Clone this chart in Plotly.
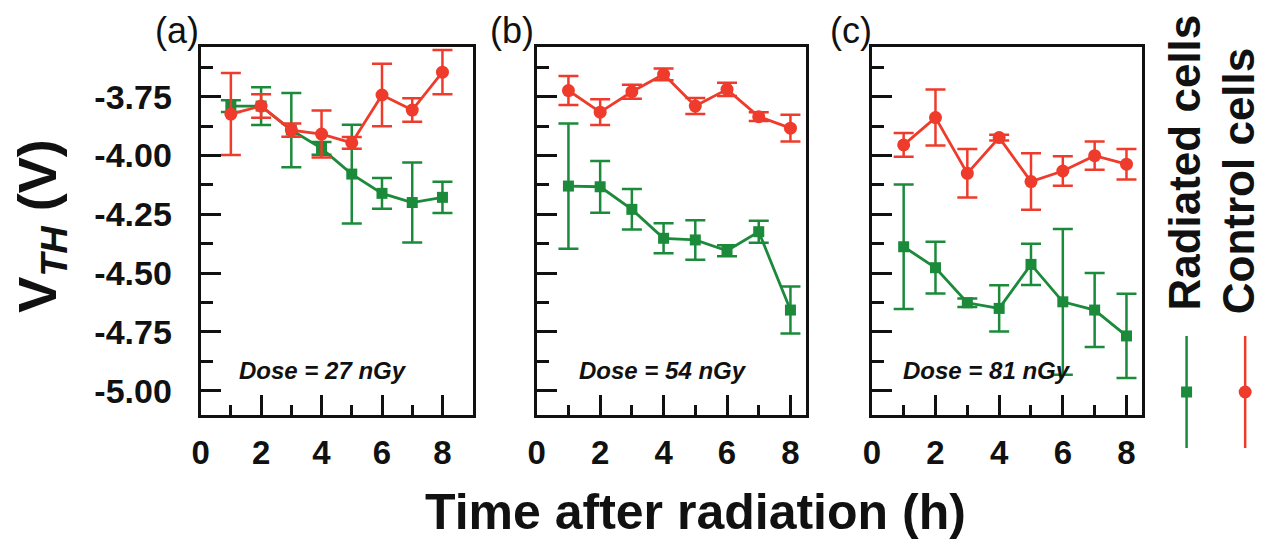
import plotly.graph_objects as go

W, H = 1268, 540

hours = [1, 2, 3, 4, 5, 6, 7, 8]

rad_a = [-3.79, -3.79, -3.892, -3.97, -4.079, -4.161, -4.20, -4.178]
rad_a_err = [0.025, 0.08, 0.158, 0.027, 0.21, 0.065, 0.17, 0.066]
ctl_a = [-3.824, -3.79, -3.892, -3.909, -3.946, -3.743, -3.807, -3.646]
ctl_a_err = [0.174, 0.05, 0.028, 0.10, 0.025, 0.133, 0.05, 0.094]

rad_b = [-4.13, -4.133, -4.229, -4.352, -4.359, -4.405, -4.324, -4.657]
rad_b_err = [0.266, 0.11, 0.086, 0.064, 0.084, 0.023, 0.047, 0.10]
ctl_b = [-3.724, -3.816, -3.729, -3.655, -3.79, -3.719, -3.835, -3.884]
ctl_b_err = [0.062, 0.055, 0.03, 0.025, 0.034, 0.028, 0.019, 0.057]

rad_c = [-4.388, -4.477, -4.626, -4.65, -4.463, -4.622, -4.657, -4.767]
rad_c_err = [0.265, 0.11, 0.018, 0.098, 0.088, 0.31, 0.157, 0.179]
ctl_c = [-3.955, -3.839, -4.076, -3.924, -4.111, -4.066, -4.001, -4.037]
ctl_c_err = [0.05, 0.119, 0.103, 0.012, 0.12, 0.063, 0.06, 0.065]

panel_labels = ["(a)", "(b)", "(c)"]
dose_labels = ["Dose = 27 nGy", "Dose = 54 nGy", "Dose = 81 nGy"]
x_tick_vals = [0, 2, 4, 6, 8]
y_tick_vals = [-5.0, -4.75, -4.5, -4.25, -4.0, -3.75]
y_tick_text = ["-5.00", "-4.75", "-4.50", "-4.25", "-4.00", "-3.75"]
series_names = ["Radiated cells", "Control cells"]

GREEN = "#1b8a3a"
RED = "#ee3b2b"
FONT = "Liberation Sans, Arial, sans-serif"

panels = [
    (rad_a, rad_a_err, ctl_a, ctl_a_err),
    (rad_b, rad_b_err, ctl_b, ctl_b_err),
    (rad_c, rad_c_err, ctl_c, ctl_c_err),
]

# pixel geometry of the three frames
x_px = [(193, 467), (531.5, 803), (869, 1141.5)]
x_ranges = [[0, 9], [0, 8.5], [0, 8.5]]
top_px, bot_px = 47, 415
y_range = [-5.103, -3.539]
dose_x = [4.06, 3.98, 3.62]
label_x = [169, 507, 848]

fig = go.Figure()

for i, (rv, re, cv, ce) in enumerate(panels):
    xa = "x" if i == 0 else f"x{i+1}"
    ya = "y" if i == 0 else f"y{i+1}"
    fig.add_trace(go.Scatter(
        x=hours, y=rv, mode="lines+markers", xaxis=xa, yaxis=ya,
        line=dict(color=GREEN, width=2.8),
        marker=dict(symbol="square", size=11, color=GREEN),
        error_y=dict(type="data", array=re, color=GREEN, thickness=2.5, width=10),
        showlegend=False, name=series_names[0], cliponaxis=False))
    fig.add_trace(go.Scatter(
        x=hours, y=cv, mode="lines+markers", xaxis=xa, yaxis=ya,
        line=dict(color=RED, width=2.8),
        marker=dict(symbol="circle", size=13, color=RED),
        error_y=dict(type="data", array=ce, color=RED, thickness=2.5, width=10),
        showlegend=False, name=series_names[1], cliponaxis=False))

    axis_common = dict(showline=True, linecolor="#111", linewidth=3, mirror=True,
                       ticks="inside", tickcolor="#111", tickwidth=3,
                       showgrid=False, zeroline=False)
    xkey = "xaxis" if i == 0 else f"xaxis{i+1}"
    ykey = "yaxis" if i == 0 else f"yaxis{i+1}"
    fig.layout[xkey] = dict(
        axis_common, domain=[x_px[i][0] / W, x_px[i][1] / W], range=x_ranges[i],
        anchor=ya, tickvals=x_tick_vals, ticklen=20,
        minor=dict(ticks="inside", ticklen=10, tickwidth=3, tickcolor="#111", dtick=1, tick0=0),
        tickfont=dict(family=FONT, size=33, color="#111", weight="bold"),
        ticklabelstandoff=6)
    fig.layout[ykey] = dict(
        axis_common, domain=[1 - bot_px / H, 1 - top_px / H], range=y_range,
        anchor=xa, tickvals=y_tick_vals, ticktext=y_tick_text, ticklen=20,
        minor=dict(ticks="inside", ticklen=12, tickwidth=3, tickcolor="#111", dtick=0.125, tick0=-5.0),
        showticklabels=(i == 0),
        tickfont=dict(family=FONT, size=34, color="#111", weight="bold"),
        ticklabelstandoff=19)

    fig.add_annotation(x=dose_x[i], y=-4.912, xref=xa, yref=ya, text=f"<b><i>{dose_labels[i]}</i></b>",
                       xanchor="center", yanchor="middle",
                       showarrow=False, font=dict(family=FONT, size=24, color="#111"))
    fig.add_annotation(x=label_x[i] / W, y=1 - 31 / H, xref="paper", yref="paper", text=panel_labels[i],
                       xanchor="center", yanchor="middle",
                       showarrow=False, font=dict(family=FONT, size=36, color="#111"))

# axis titles
fig.add_annotation(x=691 / W, y=1 - 512 / H, xref="paper", yref="paper",
                   xanchor="center", yanchor="middle",
                   text="<b>Time after radiation (h)</b>", showarrow=False,
                   font=dict(family=FONT, size=50, color="#111"))
fig.add_annotation(x=32 / W, y=1 - 226 / H, xref="paper", yref="paper", textangle=-90,
                   xanchor="center", yanchor="middle",
                   text="<b>V<sub><i>TH</i></sub> (V)</b>", showarrow=False,
                   font=dict(family=FONT, size=54, color="#111"))

# legend (vertical) on an overlay axis in pixel units
fig.layout["xaxis4"] = dict(domain=[0, 1], range=[0, W], visible=False, fixedrange=True)
fig.layout["yaxis4"] = dict(domain=[0, 1], range=[H, 0], visible=False, fixedrange=True, anchor="x4")
leg_x = [1186, 1245]
leg_sym = ["square", "circle"]
leg_col = [GREEN, RED]
leg_size = [11, 13]
leg_text_x = [1183, 1238]
leg_text_y = [163, 181]
for k in range(2):
    fig.add_trace(go.Scatter(x=[leg_x[k], leg_x[k]], y=[336, 448], mode="lines", xaxis="x4", yaxis="y4",
                             line=dict(color=leg_col[k], width=2.5), showlegend=False, hoverinfo="skip"))
    fig.add_trace(go.Scatter(x=[leg_x[k]], y=[392], mode="markers", xaxis="x4", yaxis="y4",
                             marker=dict(symbol=leg_sym[k], size=leg_size[k], color=leg_col[k]),
                             showlegend=False, hoverinfo="skip"))
    fig.add_annotation(x=leg_text_x[k], y=leg_text_y[k], xref="x4", yref="y4", textangle=-90,
                       xanchor="center", yanchor="middle",
                       text=f"<b>{series_names[k]}</b>", showarrow=False,
                       font=dict(family=FONT, size=44, color="#111"))

fig.update_layout(width=W, height=H, margin=dict(l=0, r=0, t=0, b=0),
                  paper_bgcolor="white", plot_bgcolor="rgba(0,0,0,0)", showlegend=False)

fig.write_html("out.html", config={"displayModeBar": False},
               post_script="document.body.style.margin='0';document.body.style.overflow='hidden';")
